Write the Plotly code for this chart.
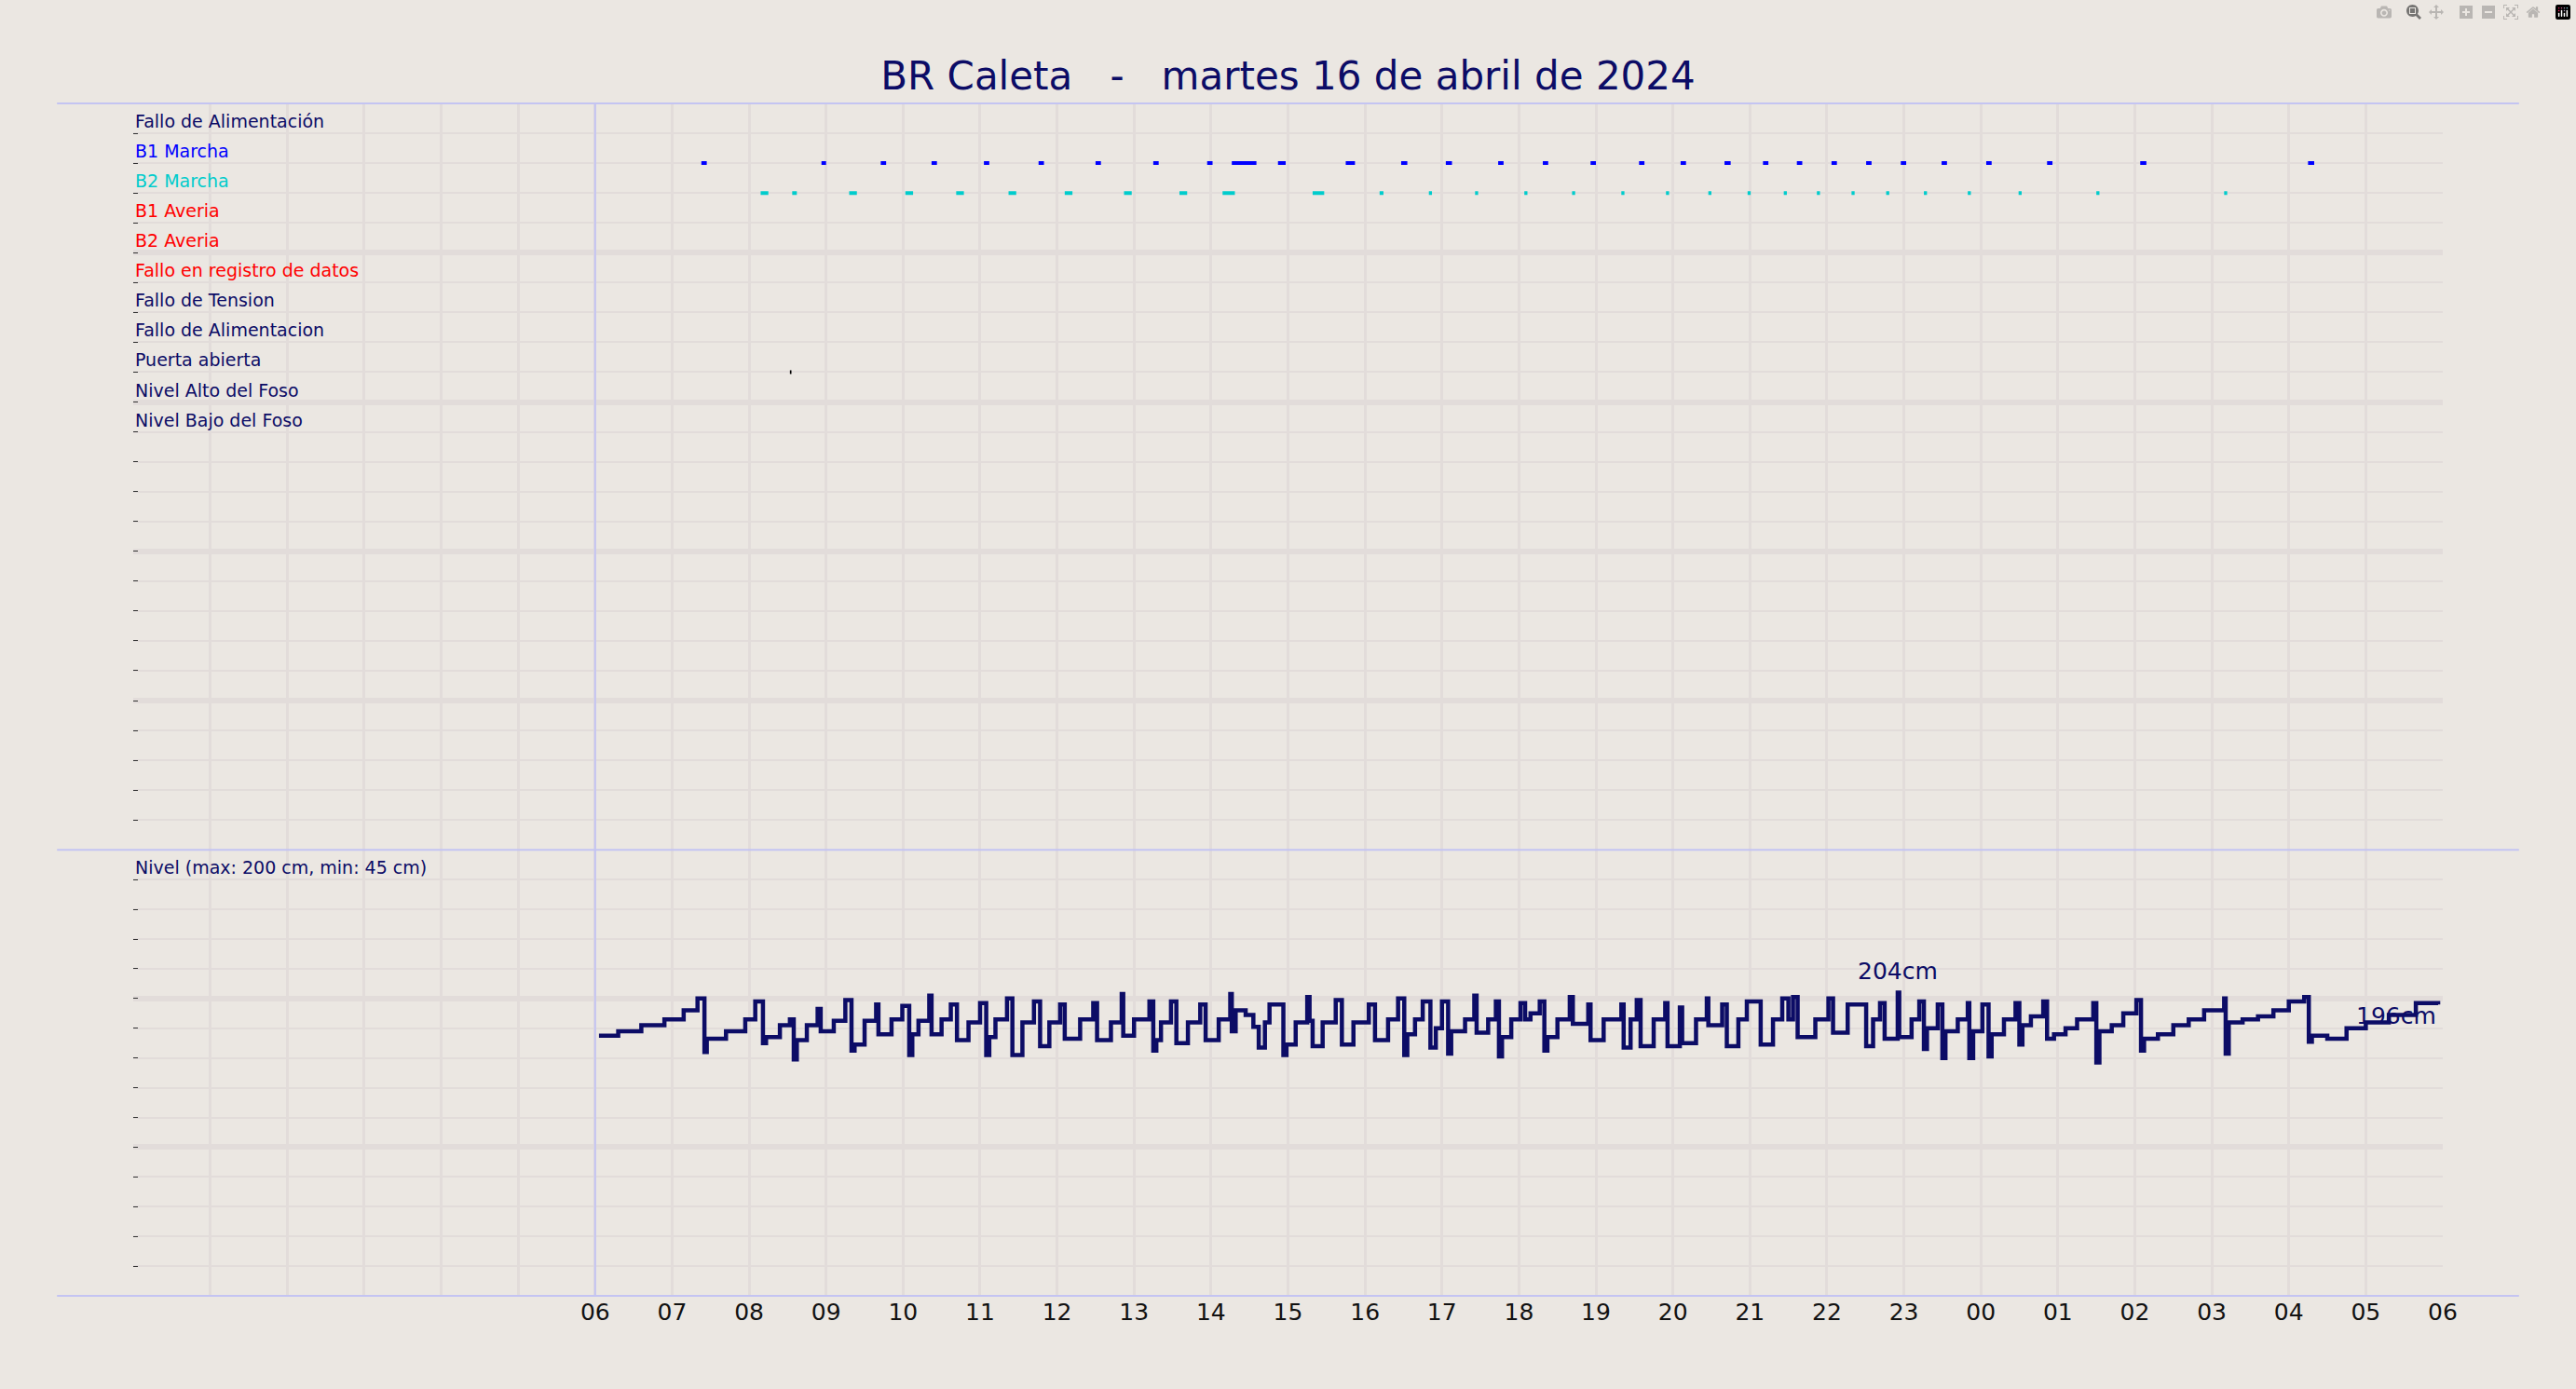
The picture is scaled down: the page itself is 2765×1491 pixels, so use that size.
import plotly.graph_objects as go

title_text = "BR Caleta   -   martes 16 de abril de 2024"
row_labels = ["Fallo de Alimentación", "B1 Marcha", "B2 Marcha", "B1 Averia", "B2 Averia",
              "Fallo en registro de datos", "Fallo de Tension", "Fallo de Alimentacion",
              "Puerta abierta", "Nivel Alto del Foso", "Nivel Bajo del Foso"]
NAVY = "#0c0c66"
row_colors = [NAVY, "#0000ff", "#00cccc", "#ff0000", "#ff0000", "#ff0000",
              NAVY, NAVY, NAVY, NAVY, NAVY]

b1_start = [7.38, 8.94, 9.71, 10.37, 11.05, 11.76, 12.50, 13.25, 13.95, 14.27, 14.87, 15.75,
            16.47, 17.05, 17.73, 18.31, 18.93, 19.56, 20.10, 20.67, 21.17, 21.61, 22.06,
            22.51, 22.96, 23.49, 24.07, 24.86, 26.07, 28.25]
b1_dur = [0.07, 0.06, 0.07, 0.07, 0.07, 0.07, 0.07, 0.07, 0.07, 0.32, 0.1, 0.12,
          0.08, 0.08, 0.07, 0.07, 0.07, 0.07, 0.07, 0.08, 0.07, 0.07, 0.07,
          0.07, 0.07, 0.07, 0.07, 0.07, 0.08, 0.08]
b2_start = [8.15, 8.56, 9.30, 10.03, 10.69, 11.37, 12.10, 12.87, 13.59, 14.15, 15.32, 16.19,
            16.83, 17.43, 18.07, 18.69, 19.33, 19.91, 20.46, 20.97, 21.44, 21.87, 22.32,
            22.77, 23.26, 23.83, 24.49, 25.50, 27.16]
b2_dur = [0.1, 0.06, 0.1, 0.1, 0.1, 0.1, 0.1, 0.1, 0.1, 0.16, 0.15, 0.05,
          0.04, 0.04, 0.04, 0.04, 0.04, 0.04, 0.04, 0.04, 0.04, 0.04, 0.04,
          0.04, 0.04, 0.04, 0.04, 0.04, 0.04]
door_start = [8.53]
door_dur = [0.02]

level_t = [6.05, 6.3, 6.6, 6.9, 7.15, 7.33,
           7.42, 7.45, 7.7, 7.95, 8.08,
           8.18, 8.22, 8.4, 8.53,
           8.58, 8.62, 8.75, 8.89,
           8.93, 9.1, 9.25,
           9.33, 9.37, 9.5, 9.65,
           9.68, 9.85, 9.99,
           10.08, 10.12, 10.2, 10.34,
           10.37, 10.5, 10.62,
           10.7, 10.85, 11.0,
           11.08, 11.12, 11.2, 11.35,
           11.42, 11.55, 11.7,
           11.78, 11.9, 12.04,
           12.1, 12.3, 12.47,
           12.52, 12.7, 12.84,
           12.86, 13.0, 13.2,
           13.25, 13.29, 13.35, 13.48,
           13.55, 13.7, 13.86,
           13.93, 14.1, 14.25,
           14.27, 14.32, 14.45, 14.55, 14.62, 14.7, 14.76,
           14.94, 14.98, 15.1, 15.25,
           15.28, 15.32, 15.45, 15.62,
           15.7, 15.85, 16.05,
           16.13, 16.3, 16.43,
           16.51, 16.55, 16.65, 16.75,
           16.85, 16.92, 17.0,
           17.08, 17.12, 17.3, 17.42,
           17.45, 17.6, 17.7,
           17.74, 17.78, 17.9, 18.02,
           18.08, 18.15, 18.27,
           18.33, 18.37, 18.5, 18.66,
           18.7, 18.9,
           18.93, 19.1, 19.33,
           19.36, 19.45, 19.53,
           19.58, 19.75, 19.9,
           19.93, 20.09,
           20.12, 20.3, 20.44,
           20.46, 20.64,
           20.7, 20.85, 20.96,
           21.14, 21.3, 21.42,
           21.5, 21.56,
           21.62, 21.85, 22.02,
           22.08, 22.27,
           22.51, 22.6, 22.69,
           22.75, 22.92,
           22.94, 23.1, 23.2,
           23.26, 23.3, 23.44,
           23.5, 23.54, 23.7, 23.83,
           23.85, 23.9, 24.02,
           24.1, 24.14, 24.3, 24.45,
           24.5, 24.54, 24.65, 24.81,
           24.86, 24.95, 25.1, 25.25, 25.46,
           25.5, 25.54, 25.7, 25.85, 26.02,
           26.08, 26.12, 26.3, 26.5, 26.7, 26.9, 27.16,
           27.18, 27.22, 27.4, 27.6, 27.8, 28.0, 28.2,
           28.26, 28.3, 28.5, 28.75, 29.0, 29.3, 29.65, 29.94]
level_v = [175, 178, 182, 186, 192, 200,
           164, 173, 178, 186, 198,
           170, 174, 182, 186,
           159, 172, 182, 193,
           178, 185, 199,
           165, 169, 185, 196,
           176, 186, 195,
           162, 176, 185, 202,
           176, 186, 196,
           172, 184, 197,
           162, 174, 186, 200,
           162, 184, 198,
           168, 184, 196,
           173, 186, 197,
           172, 184, 203,
           175, 186, 198,
           165, 172, 184, 198,
           170, 184, 196,
           172, 186, 203,
           178, 192, 189, 181, 167, 184, 196,
           162, 169, 184, 201,
           185, 168, 184, 199,
           169, 184, 196,
           172, 186, 200,
           162, 176, 186, 198,
           167, 180, 198,
           163, 178, 186, 202,
           177, 186, 198,
           161, 174, 186, 197,
           186, 190, 198,
           165, 174, 186, 201,
           183, 196,
           172, 186, 196,
           167, 186, 199,
           168, 186, 197,
           168, 194,
           170, 186, 200,
           182, 196,
           168, 186, 198,
           169, 186, 200,
           186, 201,
           174, 186, 200,
           177, 196,
           168, 186, 197,
           173, 204,
           174, 186, 198,
           166, 180, 196,
           160, 178, 186, 197,
           160, 178, 196,
           161, 176, 186, 197,
           169, 182, 188, 198,
           173, 176, 180, 186, 197,
           157, 178, 182, 190, 199,
           165, 173, 176, 182, 186, 192, 200,
           163, 184, 186, 188, 192, 198, 201,
           171, 175, 173, 180, 184, 189, 197, 196]
max_label = "204cm"
last_label = "196cm"
level_title = "Nivel (max: 200 cm, min: 45 cm)"
hour_ticks = list(range(6, 31))
hour_text = ["06", "07", "08", "09", "10", "11", "12", "13", "14", "15", "16", "17", "18",
             "19", "20", "21", "22", "23", "00", "01", "02", "03", "04", "05", "06"]

BG = "#ebe7e2"
GRID = "#e2dcda"
FONT = "DejaVu Sans"

fig = go.Figure()


def segs(starts, durs, row):
    xs, ys = [], []
    for s, d in zip(starts, durs):
        xs += [s, s + d, None]
        ys += [row, row, None]
    return xs, ys


for starts, durs, row, col in [(b1_start, b1_dur, 2, "#0000ff"), (b2_start, b2_dur, 3, "#00cccc"),
                               (door_start, door_dur, 9, "#000000")]:
    xs, ys = segs(starts, durs, row)
    fig.add_trace(go.Scatter(x=xs, y=ys, mode="lines", line=dict(color=col, width=4),
                             xaxis="x", yaxis="y", showlegend=False, hoverinfo="skip"))

fig.add_trace(go.Scatter(x=level_t, y=level_v, mode="lines", line=dict(color=NAVY, width=4.5, shape="hv"),
                         xaxis="x", yaxis="y2", showlegend=False))

anns = [dict(text=t, x=0, xref="paper", y=i + 1, yref="y", xanchor="left", yanchor="bottom",
             showarrow=False, font=dict(family=FONT, size=19, color=c))
        for i, (t, c) in enumerate(zip(row_labels, row_colors))]
anns.append(dict(text=level_title, x=0, xref="paper", y=280, yref="y2", xanchor="left", yanchor="bottom",
                 showarrow=False, font=dict(family=FONT, size=19, color=NAVY)))
imax = max(range(len(level_v)), key=lambda k: level_v[k])
anns.append(dict(text=max_label, x=level_t[imax], y=level_v[imax], xref="x", yref="y2", yanchor="bottom",
                 yshift=6, showarrow=False, font=dict(family=FONT, size=25, color=NAVY)))
anns.append(dict(text=last_label, x=level_t[-1], y=level_v[-1], xref="x", yref="y2", xanchor="right",
                 yanchor="top", yshift=4, showarrow=False, font=dict(family=FONT, size=25, color=NAVY)))

LINE = "#c4c4f2"
shapes = [dict(type="line", xref="x", yref="paper", x0=6, x1=6, y0=0, y1=1, line=dict(color=LINE, width=2))]
for yy in [0, 0.374, 1]:
    shapes.append(dict(type="line", xref="paper", yref="paper", x0=-0.033, x1=1.033, y0=yy, y1=yy,
                       line=dict(color=LINE, width=2)))

yax_common = dict(showline=False, zeroline=False, ticks="inside", ticklen=5, tickcolor="#333",
                  mirror=True, showticklabels=False, gridcolor=GRID, gridwidth=6)
fig.update_layout(
    width=2765, height=1491,
    paper_bgcolor=BG, plot_bgcolor=BG,
    margin=dict(l=143, r=143, t=111, b=100),
    title=dict(text=title_text, x=0.5, xanchor="center", y=1 - 81 / 1491, yanchor="middle",
               font=dict(family=FONT, size=42, color=NAVY)),
    xaxis=dict(range=[0, 30], anchor="y2", tickvals=hour_ticks, ticktext=hour_text, showgrid=True,
               gridcolor=GRID, gridwidth=3, zeroline=False, showline=False, ticks="",
               tickfont=dict(family=FONT, size=25, color="#111"),
               minor=dict(dtick=1, tick0=0, showgrid=True, gridcolor=GRID, gridwidth=3)),
    yaxis=dict(domain=[0.374, 1], range=[25, 0], dtick=5, tick0=0,
               minor=dict(dtick=1, showgrid=True, gridcolor=GRID, gridwidth=2, ticks="inside",
                          ticklen=5, tickcolor="#333"), **yax_common),
    yaxis2=dict(domain=[0, 0.374], range=[0, 300], dtick=100, tick0=0,
                minor=dict(dtick=20, showgrid=True, gridcolor=GRID, gridwidth=2, ticks="inside",
                           ticklen=5, tickcolor="#333"), **yax_common),
    annotations=anns, shapes=shapes,
)
fig.write_html("out.html",
               post_script="document.body.style.margin='0';document.body.style.background='%s';" % BG)
